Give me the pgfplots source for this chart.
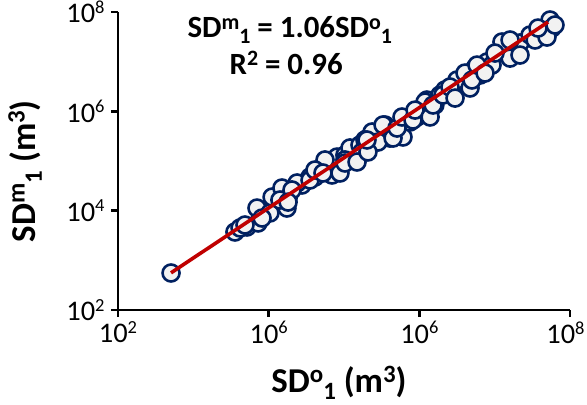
\documentclass[border=0pt]{standalone}
\usepackage{fontspec}
\setmainfont{Carlito}
\usepackage{pgfplots}
\pgfplotsset{compat=1.18}
\definecolor{navy}{HTML}{002060}
\definecolor{fillg}{HTML}{F2F2F2}
\definecolor{redl}{HTML}{C00000}
\newcommand{\tk}[1]{10\raisebox{0.32em}{\fontsize{18.5}{18.5}\selectfont #1}}
\newcommand{\supb}[1]{\raisebox{0.30em}{\fontsize{25}{25}\selectfont #1}}
\newcommand{\subb}[1]{\raisebox{-0.20em}{\fontsize{25}{25}\selectfont #1}}
\newcommand{\supa}[1]{\raisebox{0.28em}{\fontsize{22}{22}\selectfont #1}}
\newcommand{\suba}[1]{\raisebox{-0.17em}{\fontsize{22}{22}\selectfont #1}}
\begin{document}
\begin{tikzpicture}
\begin{axis}[
  scale only axis, width=452bp, height=298bp,
  xmode=log, ymode=log,
  xmin=1e2, xmax=1e8, ymin=1e2, ymax=1e8,
  axis lines=left, axis line style={-, line width=2.4bp, black},
  xtick={1e2,1e4,1e6,1e8}, ytick={1e2,1e4,1e6,1e8},
  xticklabels={\tk{2},\tk{6},\tk{6},\kern-9bp\tk{8}},
  yticklabels={\tk{2},\tk{4},\tk{6},\tk{8}},
  xminorticks=false, yminorticks=false,
  tick align=outside, major tick length=7bp,
  tick style={line width=2.4bp, black},
  ticklabel style={font=\fontsize{28.5}{31}\selectfont},
  xticklabel style={yshift=-1bp},
  yticklabel style={xshift=-3bp},
  xlabel={\textbf{SD\supb{o}\subb{1} (m\supb{3})}},
  ylabel={\textbf{SD\supb{m}\subb{1} (m\supb{3})}},
  label style={font=\fontsize{35}{37}\selectfont},
  xlabel style={at={(axis description cs:0.489,-0.277)}, anchor=base},
  ylabel style={at={(axis description cs:-0.1836,0.466)}, anchor=base, rotate=0},
  clip=false, clip marker paths=true,
]
\addplot[only marks, mark=*, mark size=8.5bp, mark options={draw=navy, fill=fillg, line width=2.6bp}] coordinates {
(506,556) (3570,3720) (5150,4690) (7230,5650) (7000,11300) (10400,8980)
(11100,18800) (15000,28600) (17500,11300) (18100,18000) (27700,32900)
(35400,47600) (23800,36100) (41200,47600) (52600,65900) (65200,83000)
(69300,52200) (80700,120000) (103000,132000) (120000,183000) (163000,210000)
(208000,290000) (236000,384000) (173000,152000) (350000,531000) (408000,290000)
(555000,461000) (607000,304000) (931000,769000) (1260000,1690000) (1190000,1540000)
(1880000,2130000) (2720000,2950000) (3800000,4690000) (3160000,4270000)
(4710000,2950000) (5480000,7450000) (7910000,9840000) (11100000,14900000)
(13700000,19700000) (16000000,11800000) (12500000,24900000) (21700000,23800000)
(29500000,34400000) (43800000,43400000) (54300000,69000000) (57700000,47500000)
(21700000,13600000) (6400000,5380000) (1610000,1340000) (752000,610000)
(190000,265000) (103000,105000) (56000,105000) (14100,16400) (8170,7110)
(4170,4480) (20400,26100) (283000,241000) (34400000,27300000) (9230000,8550000)
(2190000,2690000)
(4850,5140) (18100,14900) (35400,41400) (41200,65900) (52600,57300)
(88500,57300) (103000,91200) (149000,95500) (208000,152000) (202000,265000)
(330000,531000) (448000,290000) (506000,461000) (589000,769000) (824000,668000)
(877000,1060000) (1390000,769000) (1520000,1340000) (2060000,2130000)
(2550000,3090000) (2980000,1850000) (4040000,5900000) (5000000,4270000)
(5830000,8550000) (7450000,5900000) (10100000,14900000) (16000000,27300000)
(49500000,31300000) (63200000,54700000) (37600000,47500000)
};
\addplot[redl, line width=3.6bp] coordinates {(506,560) (51100000,62800000)};
\node[anchor=base, font=\fontsize{31}{33}\selectfont\bfseries] at (rel axis cs:0.38,0.913) {SD\supa{m}\suba{1} = 1.06SD\supa{o}\suba{1}};
\node[anchor=base, font=\fontsize{31}{33}\selectfont\bfseries, inner ysep=1bp] at (rel axis cs:0.372,0.790) {R\supa{2} = 0.96};
\end{axis}
\pgfresetboundingbox
\path[use as bounding box] (-118bp,-95bp) rectangle (469bp,310bp);
\end{tikzpicture}
\end{document}
